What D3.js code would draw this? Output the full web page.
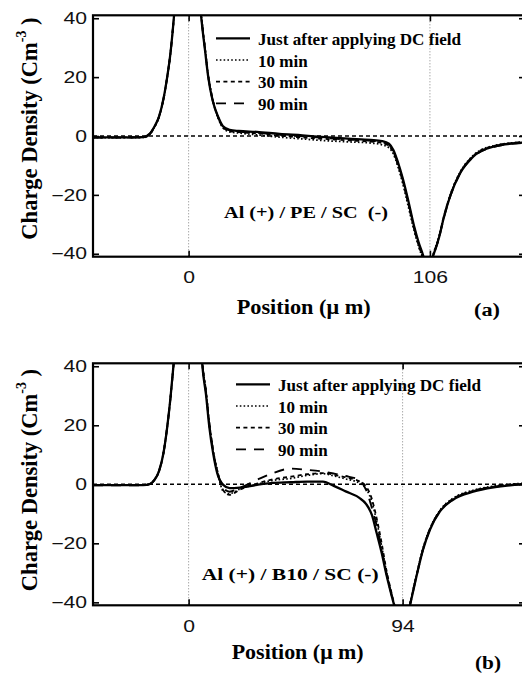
<!DOCTYPE html>
<html>
<head>
<meta charset="utf-8">
<script src="https://cdn.jsdelivr.net/npm/d3@7"></script>
<style>
  html, body { margin: 0; padding: 0; background: #fff; }
  svg { display: block; }
</style>
</head>
<body>
<svg id="chart" width="522" height="674"></svg>
<script>
// ---- series names and tick values ----
const seriesNames = ["Just after applying DC field", "10 min", "30 min", "90 min"];
const yTicks = [-40, -20, 0, 20, 40];

// ---- panel (a): Al (+) / PE / SC (-), sample thickness 106 µm ----
const thicknessA = 106;
const posA = [-42, -30, -20, -17, -15, -13, -11, -9.5, -8, -6.5, -5, -3, 0, 3, 5, 6, 7.2, 8.6, 10.5, 13, 15, 18, 22, 30, 40, 50, 60, 70, 80, 85, 88, 90, 92, 94, 96.5, 99, 101, 103, 105, 107.5, 110, 112, 115, 119, 125, 134, 147.5];
const justA = [-0.5, -0.5, -0.4, 0.8, 3.2, 6.6, 12.8, 19.6, 28, 40, 55, 80, 110, 75, 45, 37, 29.2, 20.1, 12.2, 6.5, 3.4, 2.1, 1.7, 1.4, 0.7, 0.2, -0.4, -0.9, -1.3, -1.7, -2.6, -4.8, -9.0, -14.2, -22, -30.5, -36, -40.5, -46, -40.5, -34.5, -28, -20.2, -13, -7, -3.6, -2.2];
const min10A = [-0.6, -0.6, -0.5, 0.6, 3.0, 6.4, 12.6, 19.4, 27.8, 40, 55, 80, 110, 76, 46, 38, 30, 21, 12.8, 6.0, 2.8, 1.4, 1.0, 0.4, -0.4, -1.0, -1.6, -2.0, -2.4, -3.0, -4.0, -6.2, -10.6, -16, -24, -32, -37.5, -42, -47, -40, -34, -27.5, -19.8, -12.6, -6.6, -3.3, -2.0];
const min30A = [-0.5, -0.5, -0.5, 0.7, 3.1, 6.5, 12.7, 19.5, 27.9, 40, 55, 80, 110, 75, 45, 37.5, 29.6, 20.5, 12.5, 6.2, 3.0, 1.7, 1.3, 0.9, 0.1, -0.5, -1.0, -1.5, -1.9, -2.4, -3.4, -5.6, -10, -15.2, -23, -31.3, -37, -41.5, -46.5, -40.3, -34.3, -27.8, -20, -12.8, -6.8, -3.4, -2.1];
const min90A = [-0.5, -0.5, -0.4, 0.8, 3.2, 6.6, 12.8, 19.6, 28, 40, 55, 80, 110, 75.5, 45.5, 37.5, 29.5, 20.4, 12.4, 6.3, 3.2, 1.9, 1.5, 1.1, 0.4, -0.1, -0.7, -1.2, -1.6, -2.1, -3.0, -5.2, -9.6, -14.8, -22.6, -31, -36.6, -41, -46.2, -40.6, -34.6, -28.1, -20.4, -13.1, -7.1, -3.7, -2.3];

// ---- panel (b): Al (+) / B10 / SC (-), sample thickness 94 µm ----
const thicknessB = 94;
const posB = [-42, -30, -20, -17, -15, -13, -11, -9.5, -8, -6.5, -5, -3, 0, 3, 5, 6.1, 7.6, 9.1, 10.8, 12.6, 15.2, 18, 22.5, 30, 36, 45, 52, 59, 64, 69, 75, 78, 80.5, 82.6, 84.8, 87, 89.2, 91, 93.5, 96, 97.5, 100, 103, 106, 110.4, 116, 125, 134, 147.5];
const justB = [-0.3, -0.3, -0.3, 0.1, 1.5, 4.5, 10.8, 18.8, 29, 41.5, 56, 80, 110, 80, 52, 39.6, 30.6, 19.4, 10.4, 3.7, -0.2, -1.3, -1.1, -0.2, 0.4, 0.7, 0.9, 0.9, -0.6, -2.4, -4.6, -6.7, -10.4, -16.5, -23.2, -31, -37.8, -43, -50, -45, -40.1, -31.5, -22.1, -15.4, -9.2, -5.3, -2.5, -1.0, 0.0];
const min10B = [-0.3, -0.3, -0.3, 0.1, 1.5, 4.5, 10.8, 18.8, 29, 41.5, 56, 80, 110, 81, 54, 41, 32, 21, 11.5, 4.8, -2.4, -3.2, -1.6, 0.0, 1.2, 2.0, 3.0, 3.6, 2.8, 1.8, 0.4, -1.5, -6, -12.5, -21, -30, -37.5, -43, -50, -45, -39.5, -31, -21.5, -15, -8.8, -4.8, -2.0, -0.6, 0.4];
const min30B = [-0.3, -0.3, -0.3, 0.1, 1.5, 4.5, 10.8, 18.8, 29, 41.5, 56, 80, 110, 81, 53, 40.5, 31.5, 20.5, 11.2, 4.5, -2.0, -3.6, -1.8, 0.2, 1.5, 2.6, 3.4, 3.8, 3.2, 2.3, 1.0, -0.8, -5, -11.5, -20, -29.5, -37, -42.5, -50, -45, -39.8, -31.2, -21.8, -15.2, -9.0, -5.0, -2.2, -0.8, 0.2];
const min90B = [-0.3, -0.3, -0.3, 0.1, 1.5, 4.5, 10.8, 18.8, 29, 41.5, 56, 80, 110, 81, 53, 40.5, 31.5, 20.5, 11.2, 4.2, -1.2, -2.5, -1.2, 1.5, 3.5, 5.3, 4.9, 4.3, 3.6, 2.8, 1.4, -2.0, -8, -14, -22, -30.5, -37.5, -43, -50, -45, -40, -31.4, -22, -15.3, -9.1, -5.1, -2.3, -0.9, 0.1];

// ---- line styles per series ----
const lineStyles = [
  { width: 2.3, dash: null },
  { width: 1.7, dash: "1.6,2.2" },
  { width: 1.8, dash: "4,3.4" },
  { width: 1.9, dash: "10,8" }
];

const serif = "'Liberation Serif', 'Times New Roman', Times, serif";
const sans = "'Liberation Sans', Arial, Helvetica, sans-serif";

const svg = d3.select("#chart");

const panels = [
  {
    id: "a", thickness: thicknessA, pos: posA, series: [justA, min10A, min30A, min90A],
    top: 15.3, bottom: 256.7, left: 93, right: 524,
    yLabelY: 128.5, legendX: 216, legendY: 38.3,
    note: "Al (+) / PE / SC  (-)", noteX: 224, noteY: 218, noteW: 164,
    xLabelX: 236.7, xLabelY: 314, xLabelW: 134,
    tagX: 474, tagY: 316, tag: "(a)"
  },
  {
    id: "b", thickness: thicknessB, pos: posB, series: [justB, min10B, min30B, min90B],
    top: 363.3, bottom: 605.3, left: 93, right: 524,
    yLabelY: 480, legendX: 236, legendY: 384.3,
    note: "Al (+) / B10 / SC (-)", noteX: 201.7, noteY: 580, noteW: 177,
    xLabelX: 231.7, xLabelY: 659, xLabelW: 132,
    tagX: 475, tagY: 669, tag: "(b)"
  }
];

// widen the numeric tick glyphs the same way in every label
function stretch(sel, k) {
  sel.each(function () {
    const w = this.getComputedTextLength();
    d3.select(this).attr("textLength", w * k).attr("lengthAdjust", "spacingAndGlyphs");
  });
}

panels.forEach(p => {
  const x = d3.scaleLinear().domain([-42, -42 + (p.right - p.left) / 2.2765]).range([p.left, p.right]);
  const y = d3.scaleLinear().domain([-41, 41]).range([p.bottom, p.top]);

  const g = svg.append("g").attr("class", "panel-" + p.id);

  const clipId = "clip-" + p.id;
  svg.append("clipPath").attr("id", clipId)
    .append("rect")
    .attr("x", p.left).attr("y", p.top)
    .attr("width", p.right - p.left).attr("height", p.bottom - p.top);

  // dotted guides at both electrodes
  g.selectAll("line.guide")
    .data([0, p.thickness])
    .join("line")
    .attr("class", "guide")
    .attr("x1", d => x(d)).attr("x2", d => x(d))
    .attr("y1", p.top).attr("y2", p.bottom)
    .attr("stroke", "#777").attr("stroke-width", 0.9)
    .attr("stroke-dasharray", "1,2");

  // zero reference
  g.append("line")
    .attr("x1", p.left).attr("x2", p.right)
    .attr("y1", y(0)).attr("y2", y(0))
    .attr("stroke", "#000").attr("stroke-width", 1.6)
    .attr("stroke-dasharray", "4,3");

  // profiles
  const line = d3.line()
    .x(d => x(d[0]))
    .y(d => y(d[1]))
    .curve(d3.curveMonotoneX);

  const plot = g.append("g").attr("clip-path", `url(#${clipId})`);
  // draw later series first so the solid profile stays on top
  [3, 2, 1, 0].forEach(i => {
    const pts = p.pos.map((v, j) => [v, p.series[i][j]]);
    plot.append("path")
      .datum(pts)
      .attr("d", line)
      .attr("fill", "none")
      .attr("stroke", "#000")
      .attr("stroke-width", lineStyles[i].width)
      .attr("stroke-dasharray", lineStyles[i].dash)
      .attr("stroke-linejoin", "round");
  });

  // axes: ticks point inward on all four sides
  const left = g.append("g").attr("transform", `translate(${p.left},0)`)
    .call(d3.axisLeft(y).tickValues(yTicks).tickSize(-6).tickPadding(6));
  const right = g.append("g").attr("transform", `translate(${p.right},0)`)
    .call(d3.axisRight(y).tickValues(yTicks).tickSize(-5).tickFormat(""));
  const bottom = g.append("g").attr("transform", `translate(0,${p.bottom})`)
    .call(d3.axisBottom(x).tickValues([0, p.thickness]).tickSize(-6).tickPadding(15));
  const top = g.append("g").attr("transform", `translate(0,${p.top})`)
    .call(d3.axisTop(x).tickValues([0, p.thickness]).tickSize(-6).tickFormat(""));

  [left, right, bottom, top].forEach(a => {
    a.select(".domain").remove();
    a.selectAll(".tick line").attr("stroke", "#000").attr("stroke-width", 1.6);
  });
  [left, bottom].forEach(a => {
    a.selectAll(".tick text")
      .attr("fill", "#111")
      .style("font-family", sans)
      .style("font-size", "16px");
  });
  stretch(left.selectAll(".tick text"), 1.32);
  stretch(bottom.selectAll(".tick text"), 1.32);

  // frame
  g.append("rect")
    .attr("x", p.left).attr("y", p.top)
    .attr("width", p.right - p.left).attr("height", p.bottom - p.top)
    .attr("fill", "none").attr("stroke", "#000").attr("stroke-width", 2.2);

  // y axis title
  const yt = g.append("text")
    .attr("transform", `translate(37,${p.yLabelY}) rotate(-90)`)
    .attr("text-anchor", "middle")
    .style("font-family", serif).style("font-weight", "bold").style("font-size", "22.5px")
    .attr("fill", "#000");
  yt.append("tspan").text("Charge Density (Cm");
  yt.append("tspan").attr("dy", -11).style("font-size", "14px").text("-3");
  yt.append("tspan").attr("dy", 11).text(" )");

  // x axis title
  g.append("text")
    .attr("x", p.xLabelX).attr("y", p.xLabelY)
    .attr("textLength", p.xLabelW).attr("lengthAdjust", "spacingAndGlyphs")
    .style("font-family", serif).style("font-weight", "bold").style("font-size", "21px")
    .text("Position (\u03BC m)");

  g.append("text")
    .attr("x", p.tagX).attr("y", p.tagY)
    .attr("textLength", 26).attr("lengthAdjust", "spacingAndGlyphs")
    .style("font-family", serif).style("font-weight", "bold").style("font-size", "18px")
    .text(p.tag);

  // sample label
  g.append("text")
    .attr("x", p.noteX).attr("y", p.noteY)
    .attr("textLength", p.noteW).attr("lengthAdjust", "spacingAndGlyphs")
    .style("font-family", serif).style("font-weight", "bold").style("font-size", "17.5px")
    .style("white-space", "pre")
    .text(p.note);

  // legend
  const lg = g.append("g");
  seriesNames.forEach((name, i) => {
    const yy = p.legendY + i * 21.7;
    lg.append("line")
      .attr("x1", p.legendX).attr("x2", p.legendX + 34)
      .attr("y1", yy).attr("y2", yy)
      .attr("stroke", "#000")
      .attr("stroke-width", lineStyles[i].width)
      .attr("stroke-dasharray", lineStyles[i].dash);
    const t = lg.append("text")
      .attr("x", p.legendX + 42).attr("y", yy + 6.7)
      .style("font-family", serif).style("font-weight", "bold").style("font-size", "17px")
      .text(name);
    if (i === 0) t.attr("textLength", 203).attr("lengthAdjust", "spacingAndGlyphs");
  });
});
</script>
</body>
</html>
